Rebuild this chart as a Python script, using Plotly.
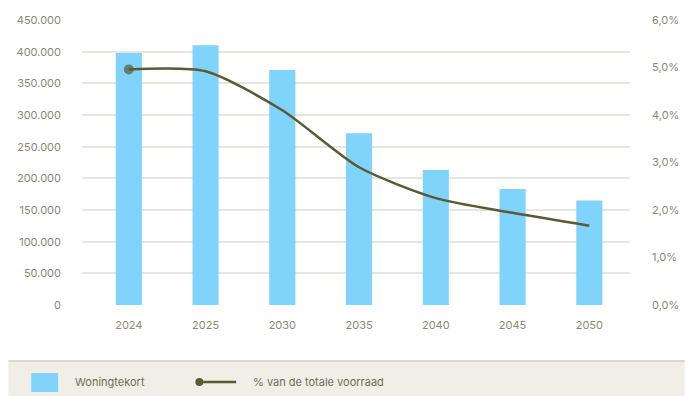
import plotly.graph_objects as go

# ---- data ----
years = ["2024", "2025", "2030", "2035", "2040", "2045", "2050"]
woningtekort = [398000, 410000, 371000, 271000, 213000, 183000, 165000]
pct_voorraad = [4.96, 4.92, 4.10, 2.90, 2.25, 1.94, 1.67]
left_ticks = [0, 50000, 100000, 150000, 200000, 250000, 300000, 350000, 400000, 450000]
right_ticks = [0, 1, 2, 3, 4, 5, 6]
right_labels = [f"{v:.1f}".replace(".", ",") + "%" for v in right_ticks]

W, H = 691, 396
L, R, T, B = 82, 58, 20, 91
PW, PH = W - L - R, H - T - B

def px(x):
    return (x - L) / PW

def py(y):
    return (H - B - y) / PH

BAR = "#80d3fb"
LINE = "#5b5a35"
TICK = "#8a8874"
GRID = "#e7e5e0"
FONT = "Inter, Open Sans, sans-serif"

fig = go.Figure()
fig.add_trace(go.Bar(x=years, y=woningtekort, marker=dict(color=BAR, line=dict(width=0)),
                     width=0.34, name="Woningtekort", yaxis="y", showlegend=False))
fig.add_trace(go.Scatter(x=years, y=pct_voorraad, yaxis="y2", mode="lines+markers",
                         line=dict(color=LINE, width=2.5, shape="spline", smoothing=0.7),
                         marker=dict(color=LINE, size=[10, 0, 0, 0, 0, 0, 0], line=dict(width=0)),
                         name="% van de totale voorraad", showlegend=False))

shapes = [
    dict(type="rect", xref="paper", yref="paper", x0=px(8), x1=px(688), y0=py(396), y1=py(361),
         fillcolor="#f1eee8", line=dict(width=0), layer="below"),
    dict(type="line", xref="paper", yref="paper", x0=px(8), x1=px(688), y0=py(361), y1=py(361),
         line=dict(color="#d9d8d4", width=2)),
    dict(type="rect", xref="paper", yref="paper", x0=px(31), x1=px(58), y0=py(392), y1=py(373),
         fillcolor=BAR, line=dict(width=0)),
    dict(type="line", xref="paper", yref="paper", x0=px(200), x1=px(237), y0=py(382), y1=py(382),
         line=dict(color=LINE, width=2.5)),
    dict(type="circle", xref="paper", yref="paper", x0=px(196), x1=px(204), y0=py(386), y1=py(378),
         fillcolor=LINE, line=dict(width=0)),
]
annotations = [
    dict(xref="paper", yref="paper", x=px(73), y=py(382), text="Woningtekort", showarrow=False,
         xanchor="left", yanchor="middle", font=dict(family=FONT, size=11, color="#6f6d5a")),
    dict(xref="paper", yref="paper", x=px(252), y=py(382), text="% van de totale voorraad", showarrow=False,
         xanchor="left", yanchor="middle", font=dict(family=FONT, size=11, color="#6f6d5a")),
]

fig.update_layout(
    width=W, height=H,
    margin=dict(l=L, r=R, t=T, b=B, pad=0),
    paper_bgcolor="white", plot_bgcolor="white",
    separators=",.",
    font=dict(family=FONT, size=11, color=TICK),
    showlegend=False,
    xaxis=dict(type="category", range=[-0.61, 6.53], showgrid=False, zeroline=False,
               showline=False, ticks="", ticklabelstandoff=12,
               tickfont=dict(family=FONT, size=11, color=TICK)),
    yaxis=dict(range=[0, 450000], tickvals=left_ticks, tickformat=",d", showgrid=True,
               gridcolor=GRID, gridwidth=2, zeroline=False, showline=False, ticks="",
               ticklabelstandoff=20, tickfont=dict(family=FONT, size=11, color=TICK)),
    yaxis2=dict(range=[0, 6], tickvals=right_ticks, ticktext=right_labels,
                overlaying="y", side="right", showgrid=False, zeroline=False, showline=False,
                ticks="", ticklabelstandoff=21, tickfont=dict(family=FONT, size=11, color=TICK)),
    shapes=shapes, annotations=annotations,
)

fig.write_html("out.html")
